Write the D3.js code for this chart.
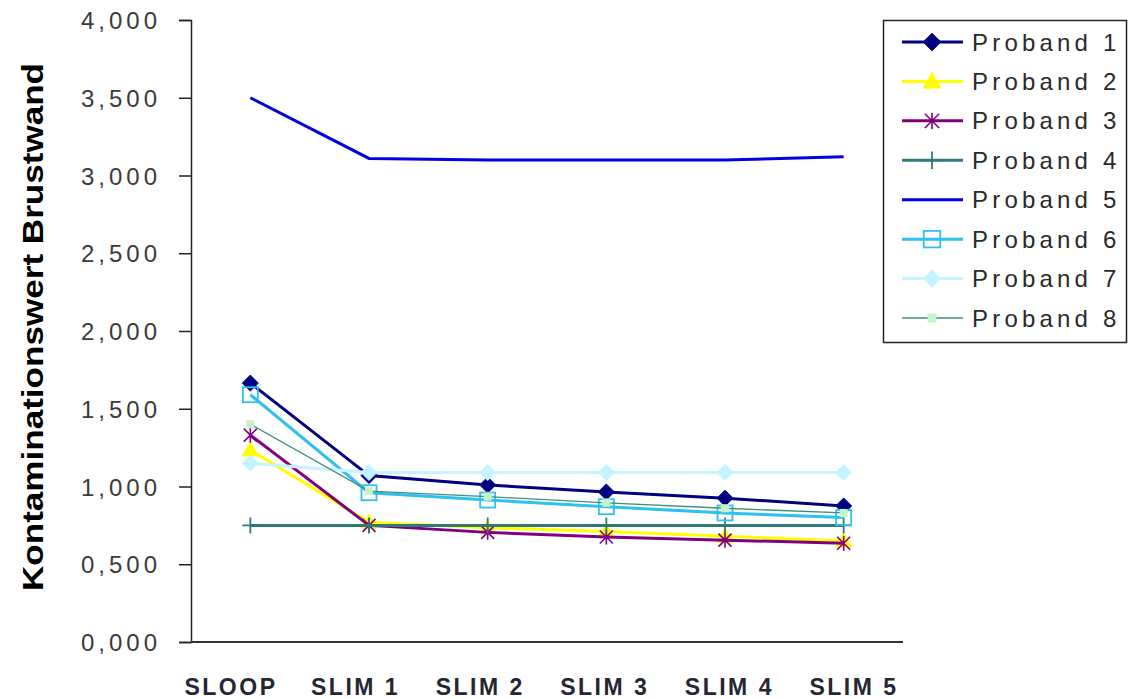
<!DOCTYPE html>
<html>
<head>
<meta charset="utf-8">
<script src="https://cdn.jsdelivr.net/npm/d3@7"></script>
<style>
  html, body { margin: 0; padding: 0; background: #ffffff; }
  svg { display: block; font-family: "Liberation Sans", Arial, sans-serif; }
</style>
</head>
<body>
<svg id="chart" width="1129" height="699"></svg>
<script>
// Measurement points along the x axis
const categories = ["SLOOP", "SLIM 1", "SLIM 2", "SLIM 3", "SLIM 4", "SLIM 5"];

// Contamination value (chest wall) per subject and measurement
const proband1 = [1.665, 1.07, 1.01, 0.965, 0.925, 0.875];
const proband2 = [1.235, 0.77, 0.735, 0.71, 0.68, 0.65];
const proband3 = [1.33, 0.75, 0.705, 0.675, 0.655, 0.635];
const proband4 = [0.75, 0.75, 0.75, 0.75, 0.75, 0.75];
const proband5 = [3.50, 3.11, 3.10, 3.10, 3.10, 3.12];
const proband6 = [1.59, 0.96, 0.913, 0.87, 0.83, 0.80];
const proband7 = [1.15, 1.09, 1.09, 1.09, 1.09, 1.09];
const proband8 = [1.40, 0.97, 0.935, 0.895, 0.86, 0.83];

const seriesNames = ["Proband 1", "Proband 2", "Proband 3", "Proband 4",
                     "Proband 5", "Proband 6", "Proband 7", "Proband 8"];
const yTicks = [0, 0.5, 1, 1.5, 2, 2.5, 3, 3.5, 4];
const yTitle = "Kontaminationswert Brustwand";

// Drawing style of each series (line colour, width, marker)
const styles = [
  { color: "#000080", width: 3,   marker: "diamond",  fill: "#000080" },
  { color: "#FFFF00", width: 3,   marker: "triangle", fill: "#FFFF00" },
  { color: "#800080", width: 3,   marker: "asterisk", fill: "none" },
  { color: "#2F7A78", width: 3,   marker: "plus",     fill: "none" },
  { color: "#0000E0", width: 3,   marker: "none",     fill: "none" },
  { color: "#2EC0EE", width: 3,   marker: "square",   fill: "none" },
  { color: "#C4F4FF", width: 3,   marker: "diamond",  fill: "#C4F4FF" },
  { color: "#3F8F7F", width: 1.3, marker: "small",    fill: "#C6F2C6" }
];

const allValues = [proband1, proband2, proband3, proband4,
                   proband5, proband6, proband7, proband8];
const series = seriesNames.map((name, i) => ({ name, values: allValues[i], style: styles[i] }));

const svg = d3.select("#chart");
const plot = { left: 191, right: 903, top: 20, bottom: 642 };

const x = d3.scalePoint().domain(categories).range([plot.left, plot.right]).padding(0.5);
const y = d3.scaleLinear().domain([0, 4]).range([plot.bottom, plot.top]);

// Category label positions (labels are spread slightly wider than the points)
const xLabel = d3.scalePoint().domain(categories).range([230, 853]);

const deLocale = d3.formatLocale({ decimal: ",", thousands: ".", grouping: [3], currency: ["", " €"] });
const fmt = deLocale.format(".3f");

// Y axis
const yAxis = d3.axisLeft(y).tickValues(yTicks).tickSize(12).tickFormat(fmt);
const yG = svg.append("g").attr("transform", `translate(${plot.left},0)`).call(yAxis);
yG.select(".domain").attr("stroke", "#222").attr("stroke-width", 1.5);
yG.selectAll(".tick line").attr("stroke", "#222").attr("stroke-width", 1.5);
yG.selectAll(".tick text")
  .attr("x", -30)
  .attr("dy", "0.36em")
  .attr("font-size", 24)
  .attr("letter-spacing", "4px")
  .attr("fill", "#3a3a3a")
  .attr("font-family", "Liberation Sans, Arial, sans-serif");

// X axis line
svg.append("line")
  .attr("x1", plot.left).attr("x2", plot.right)
  .attr("y1", plot.bottom).attr("y2", plot.bottom)
  .attr("stroke", "#333").attr("stroke-width", 2);

// Category labels
svg.append("g").selectAll("text").data(categories).join("text")
  .attr("x", d => xLabel(d) + 1)
  .attr("y", 695)
  .attr("text-anchor", "middle")
  .attr("font-size", 23)
  .attr("font-weight", "bold")
  .attr("letter-spacing", "2.5px")
  .attr("fill", "#262633")
  .text(d => d);

// Y axis title, rotated and stretched along the text direction
svg.append("text")
  .attr("transform", "translate(43,327) rotate(-90) scale(1.17,1)")
  .attr("text-anchor", "middle")
  .attr("font-size", 30)
  .attr("font-weight", "bold")
  .attr("fill", "#000")
  .text(yTitle);

// Marker drawing
function drawMarker(g, type, cx, cy, st, scale = 1) {
  const s = scale;
  if (type === "diamond") {
    g.append("path")
      .attr("d", `M${cx},${cy - 8 * s}L${cx + 8 * s},${cy}L${cx},${cy + 8 * s}L${cx - 8 * s},${cy}Z`)
      .attr("fill", st.fill).attr("stroke", st.color).attr("stroke-width", 1);
  } else if (type === "triangle") {
    g.append("path")
      .attr("d", `M${cx},${cy - 8 * s}L${cx + 8 * s},${cy + 6 * s}L${cx - 8 * s},${cy + 6 * s}Z`)
      .attr("fill", st.fill).attr("stroke", st.color).attr("stroke-width", 1);
  } else if (type === "asterisk") {
    const r = 6.5 * s;
    g.append("path")
      .attr("d", `M${cx - r},${cy - r}L${cx + r},${cy + r}M${cx - r},${cy + r}L${cx + r},${cy - r}M${cx},${cy - r - 1}L${cx},${cy + r + 1}`)
      .attr("stroke", st.color).attr("stroke-width", 1.6).attr("fill", "none");
  } else if (type === "plus") {
    const r = 8 * s;
    g.append("path")
      .attr("d", `M${cx},${cy - r}L${cx},${cy + r}M${cx - r},${cy}L${cx + r},${cy}`)
      .attr("stroke", st.color).attr("stroke-width", 1.8).attr("fill", "none");
  } else if (type === "square") {
    const r = 7.5 * s;
    g.append("rect")
      .attr("x", cx - r).attr("y", cy - r).attr("width", 2 * r).attr("height", 2 * r)
      .attr("fill", "none").attr("stroke", st.color).attr("stroke-width", 1.8);
  } else if (type === "small") {
    const r = 4 * s;
    g.append("rect")
      .attr("x", cx - r).attr("y", cy - r).attr("width", 2 * r).attr("height", 2 * r)
      .attr("fill", st.fill).attr("stroke", "none");
  }
}

// Series lines and markers
const line = d3.line().x((d, i) => x(categories[i])).y(d => y(d));
const seriesG = svg.append("g");
series.forEach(s => {
  const g = seriesG.append("g");
  g.append("path")
    .attr("d", line(s.values))
    .attr("fill", "none")
    .attr("stroke", s.style.color)
    .attr("stroke-width", s.style.width)
    .attr("stroke-linejoin", "miter");
  s.values.forEach((v, i) => drawMarker(g, s.style.marker, x(categories[i]), y(v), s.style));
});

// Legend
const legend = svg.append("g");
legend.append("rect")
  .attr("x", 883.5).attr("y", 20.5).attr("width", 243).attr("height", 322)
  .attr("fill", "#fff").attr("stroke", "#222").attr("stroke-width", 1.5);
const legendY = d3.scalePoint().domain(seriesNames).range([42, 318]);
series.forEach(s => {
  const ly = legendY(s.name);
  const g = legend.append("g");
  g.append("line")
    .attr("x1", 902).attr("x2", 963).attr("y1", ly).attr("y2", ly)
    .attr("stroke", s.style.color).attr("stroke-width", s.style.width);
  drawMarker(g, s.style.marker, 932, ly, s.style, 1.1);
  g.append("text")
    .attr("x", 972).attr("y", ly + 8.5)
    .attr("font-size", 24)
    .attr("letter-spacing", "4.2px")
    .attr("fill", "#2a2a2a")
    .text(s.name);
});
</script>
</body>
</html>
